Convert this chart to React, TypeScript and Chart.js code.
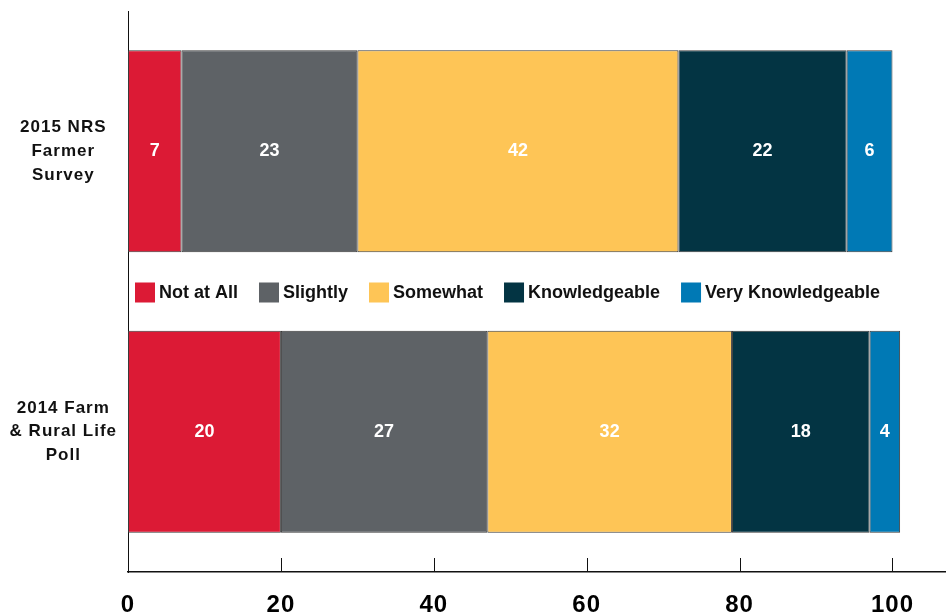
import React, { useEffect, useRef } from 'react';
import { Chart, registerables } from 'chart.js';

Chart.register(...registerables);

// ---- data ----
const categories: string[][] = [
  ['2015 NRS', 'Farmer', 'Survey'],
  ['2014 Farm', '& Rural Life', 'Poll'],
];
const seriesNames = ['Not at All', 'Slightly', 'Somewhat', 'Knowledgeable', 'Very Knowledgeable'];
const notAtAll = [7, 20];
const slightly = [23, 27];
const somewhat = [42, 32];
const knowledgeable = [22, 18];
const veryKnowledgeable = [6, 4];
const seriesColors = ['#DC1A35', '#5E6266', '#FEC556', '#033443', '#0079B5'];
const xTickValues = [0, 20, 40, 60, 80, 100];
const xMax = 107;

const FONT = "'Liberation Sans', Arial, Helvetica, sans-serif";

const spacingPlugin = {
  id: 'letterSpacingAxes',
  beforeDraw(chart: any) {
    (chart.ctx as any).letterSpacing = '1px';
  },
  beforeDatasetsDraw(chart: any) {
    (chart.ctx as any).letterSpacing = '0px';
  },
};

const valueLabelPlugin = {
  id: 'valueLabels',
  afterDatasetsDraw(chart: any) {
    const ctx = chart.ctx;
    ctx.save();
    ctx.font = `bold 18px ${FONT}`;
    ctx.fillStyle = '#ffffff';
    ctx.textAlign = 'center';
    ctx.textBaseline = 'middle';
    chart.data.datasets.forEach((ds: any, i: number) => {
      const meta = chart.getDatasetMeta(i);
      meta.data.forEach((el: any, j: number) => {
        const c = el.getCenterPoint();
        ctx.fillText(String(ds.data[j]), c.x, c.y);
      });
    });
    ctx.restore();
  },
};

const middleLegendPlugin = {
  id: 'middleLegend',
  afterDatasetsDraw(chart: any) {
    const ctx = chart.ctx;
    const ys = chart.scales.y;
    const y = (ys.getPixelForValue(0) + ys.getPixelForValue(1)) / 2 + 1;
    let x = 135;
    ctx.save();
    ctx.font = `bold 18px ${FONT}`;
    ctx.textAlign = 'left';
    ctx.textBaseline = 'middle';
    chart.data.datasets.forEach((ds: any) => {
      ctx.fillStyle = ds.backgroundColor;
      ctx.fillRect(x, y - 10, 20, 20);
      ctx.fillStyle = '#111111';
      ctx.fillText(ds.label, x + 24, y + 1);
      x += 24 + ctx.measureText(ds.label).width + 21;
    });
    ctx.restore();
  },
};

const innerTicksPlugin = {
  id: 'innerTicks',
  afterDraw(chart: any) {
    const ctx = chart.ctx;
    const xs = chart.scales.x;
    const y0 = chart.chartArea.bottom;
    ctx.save();
    ctx.strokeStyle = '#111111';
    ctx.lineWidth = 1;
    ctx.beginPath();
    xTickValues.forEach((v) => {
      if (v === 0) return;
      const px = Math.round(xs.getPixelForValue(v)) + 0.5;
      ctx.moveTo(px, y0);
      ctx.lineTo(px, y0 - 14);
    });
    ctx.stroke();
    ctx.restore();
  },
};

export default function App() {
  const canvasRef = useRef<HTMLCanvasElement | null>(null);

  useEffect(() => {
    if (!canvasRef.current) return;
    const seriesData = [notAtAll, slightly, somewhat, knowledgeable, veryKnowledgeable];
    const chart = new Chart(canvasRef.current, {
      type: 'bar',
      data: {
        labels: categories as any,
        datasets: seriesNames.map((name, i) => ({
          label: name,
          data: seriesData[i],
          backgroundColor: seriesColors[i],
          borderColor: '#3a3a3a',
          borderWidth: 1,
          borderSkipped: false,
          barPercentage: 1,
          categoryPercentage: 0.72,
        })),
      },
      options: {
        indexAxis: 'y',
        animation: false,
        responsive: true,
        maintainAspectRatio: false,
        layout: { padding: { top: 11, right: 0, left: 0, bottom: 0 } },
        plugins: {
          legend: { display: false },
          tooltip: { enabled: false },
        },
        scales: {
          x: {
            stacked: true,
            min: 0,
            max: xMax,
            afterBuildTicks: (scale: any) => {
              scale.ticks = xTickValues.map((v) => ({ value: v }));
            },
            afterFit: (scale: any) => {
              scale.height = 44;
              scale.paddingRight = 0;
            },
            grid: { display: false, drawTicks: false },
            border: { display: true, color: '#111111', width: 1.5 },
            ticks: {
              padding: 19,
              color: '#000000',
              font: { family: FONT, size: 24, weight: 'bold' },
              maxRotation: 0,
              autoSkip: false,
            },
          },
          y: {
            stacked: true,
            afterFit: (scale: any) => {
              scale.width = 128;
              scale.paddingTop = 0;
              scale.paddingBottom = 0;
            },
            grid: { display: false, drawTicks: false },
            border: { display: true, color: '#111111', width: 1 },
            ticks: {
              padding: 17,
              crossAlign: 'center',
              color: '#111111',
              font: { family: FONT, size: 17, weight: 'bold', lineHeight: 1.4 },
            },
          },
        },
      },
      plugins: [spacingPlugin, valueLabelPlugin, middleLegendPlugin, innerTicksPlugin],
    } as any);
    return () => chart.destroy();
  }, []);

  return (
    <div style={{ position: 'fixed', left: 0, top: 0, width: 946, height: 616, background: '#ffffff' }}>
      <canvas ref={canvasRef} />
    </div>
  );
}
